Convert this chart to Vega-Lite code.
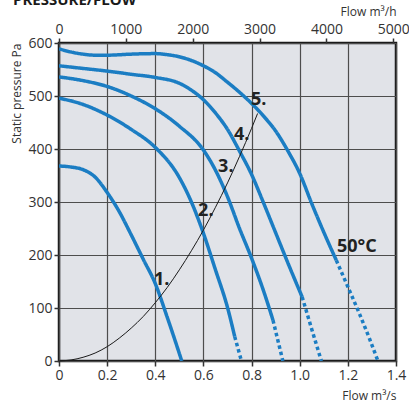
{
  "$schema": "https://vega.github.io/schema/vega-lite/v6.json",
  "width": 337,
  "height": 318,
  "autosize": {"type": "none"},
  "padding": {"left": 59, "top": 43, "right": 13, "bottom": 46},
  "title": {"text": "PRESSURE/FLOW", "anchor": "start", "frame": "bounds", "fontSize": 15, "fontWeight": "bold", "font": "Open Sans", "color": "#1a1a1a", "offset": -3, "dx": 2},
  "config": {
    "view": {"fill": "#e1e3e8", "stroke": "#1a1a1a", "strokeWidth": 2.5},
    "axis": {
      "domain": false,
      "labelFont": "Open Sans",
      "labelFontSize": 14,
      "labelColor": "#333333",
      "titleFont": "Open Sans",
      "titleFontSize": 12,
      "titleFontWeight": "normal",
      "titleColor": "#333333",
      "tickColor": "#333333",
      "tickWidth": 1.5,
      "tickSize": 5,
      "gridColor": "#4d4d4d",
      "gridWidth": 1.2,
      "gridOpacity": 1,
      "labelFlush": false,
      "labelOverlap": false
    }
  },
  "datasets": {
    "curves": [
      {"curve": "1", "seg": "solid", "q": 0, "p": 368},
      {"curve": "1", "seg": "solid", "q": 0.05, "p": 366},
      {"curve": "1", "seg": "solid", "q": 0.1, "p": 361},
      {"curve": "1", "seg": "solid", "q": 0.15, "p": 347},
      {"curve": "1", "seg": "solid", "q": 0.2, "p": 318},
      {"curve": "1", "seg": "solid", "q": 0.25, "p": 282},
      {"curve": "1", "seg": "solid", "q": 0.3, "p": 238},
      {"curve": "1", "seg": "solid", "q": 0.35, "p": 192},
      {"curve": "1", "seg": "solid", "q": 0.4, "p": 146},
      {"curve": "1", "seg": "solid", "q": 0.45, "p": 82},
      {"curve": "1", "seg": "solid", "q": 0.5, "p": 14},
      {"curve": "1", "seg": "solid", "q": 0.51, "p": 0},

      {"curve": "2", "seg": "solid", "q": 0, "p": 496},
      {"curve": "2", "seg": "solid", "q": 0.1, "p": 484},
      {"curve": "2", "seg": "solid", "q": 0.2, "p": 464},
      {"curve": "2", "seg": "solid", "q": 0.3, "p": 437},
      {"curve": "2", "seg": "solid", "q": 0.4, "p": 403},
      {"curve": "2", "seg": "solid", "q": 0.5, "p": 346},
      {"curve": "2", "seg": "solid", "q": 0.55, "p": 300},
      {"curve": "2", "seg": "solid", "q": 0.6, "p": 241},
      {"curve": "2", "seg": "solid", "q": 0.65, "p": 172},
      {"curve": "2", "seg": "solid", "q": 0.7, "p": 101},
      {"curve": "2", "seg": "solid", "q": 0.73, "p": 46},
      {"curve": "2", "seg": "dash", "q": 0.73, "p": 46},
      {"curve": "2", "seg": "dash", "q": 0.758, "p": 0},

      {"curve": "3", "seg": "solid", "q": 0, "p": 536},
      {"curve": "3", "seg": "solid", "q": 0.1, "p": 529},
      {"curve": "3", "seg": "solid", "q": 0.2, "p": 518},
      {"curve": "3", "seg": "solid", "q": 0.3, "p": 500},
      {"curve": "3", "seg": "solid", "q": 0.4, "p": 476},
      {"curve": "3", "seg": "solid", "q": 0.5, "p": 443},
      {"curve": "3", "seg": "solid", "q": 0.6, "p": 398},
      {"curve": "3", "seg": "solid", "q": 0.65, "p": 360},
      {"curve": "3", "seg": "solid", "q": 0.7, "p": 310},
      {"curve": "3", "seg": "solid", "q": 0.75, "p": 250},
      {"curve": "3", "seg": "solid", "q": 0.8, "p": 194},
      {"curve": "3", "seg": "solid", "q": 0.85, "p": 132},
      {"curve": "3", "seg": "solid", "q": 0.889, "p": 77},
      {"curve": "3", "seg": "dash", "q": 0.889, "p": 77},
      {"curve": "3", "seg": "dash", "q": 0.93, "p": 0},

      {"curve": "4", "seg": "solid", "q": 0, "p": 557},
      {"curve": "4", "seg": "solid", "q": 0.1, "p": 552},
      {"curve": "4", "seg": "solid", "q": 0.2, "p": 547},
      {"curve": "4", "seg": "solid", "q": 0.3, "p": 541},
      {"curve": "4", "seg": "solid", "q": 0.4, "p": 535},
      {"curve": "4", "seg": "solid", "q": 0.5, "p": 524},
      {"curve": "4", "seg": "solid", "q": 0.55, "p": 511},
      {"curve": "4", "seg": "solid", "q": 0.6, "p": 493},
      {"curve": "4", "seg": "solid", "q": 0.65, "p": 468},
      {"curve": "4", "seg": "solid", "q": 0.7, "p": 437},
      {"curve": "4", "seg": "solid", "q": 0.75, "p": 396},
      {"curve": "4", "seg": "solid", "q": 0.8, "p": 352},
      {"curve": "4", "seg": "solid", "q": 0.85, "p": 298},
      {"curve": "4", "seg": "solid", "q": 0.9, "p": 242},
      {"curve": "4", "seg": "solid", "q": 0.95, "p": 186},
      {"curve": "4", "seg": "solid", "q": 1.01, "p": 121},
      {"curve": "4", "seg": "dash", "q": 1.01, "p": 121},
      {"curve": "4", "seg": "dash", "q": 1.05, "p": 60},
      {"curve": "4", "seg": "dash", "q": 1.09, "p": 0},

      {"curve": "5", "seg": "solid", "q": 0, "p": 589},
      {"curve": "5", "seg": "solid", "q": 0.05, "p": 583},
      {"curve": "5", "seg": "solid", "q": 0.1, "p": 579},
      {"curve": "5", "seg": "solid", "q": 0.15, "p": 577},
      {"curve": "5", "seg": "solid", "q": 0.2, "p": 577},
      {"curve": "5", "seg": "solid", "q": 0.3, "p": 579},
      {"curve": "5", "seg": "solid", "q": 0.4, "p": 580},
      {"curve": "5", "seg": "solid", "q": 0.45, "p": 578},
      {"curve": "5", "seg": "solid", "q": 0.5, "p": 574},
      {"curve": "5", "seg": "solid", "q": 0.55, "p": 567},
      {"curve": "5", "seg": "solid", "q": 0.6, "p": 557},
      {"curve": "5", "seg": "solid", "q": 0.65, "p": 544},
      {"curve": "5", "seg": "solid", "q": 0.7, "p": 526},
      {"curve": "5", "seg": "solid", "q": 0.75, "p": 507},
      {"curve": "5", "seg": "solid", "q": 0.8, "p": 486},
      {"curve": "5", "seg": "solid", "q": 0.85, "p": 462},
      {"curve": "5", "seg": "solid", "q": 0.9, "p": 434},
      {"curve": "5", "seg": "solid", "q": 0.95, "p": 397},
      {"curve": "5", "seg": "solid", "q": 1.0, "p": 354},
      {"curve": "5", "seg": "solid", "q": 1.05, "p": 297},
      {"curve": "5", "seg": "solid", "q": 1.1, "p": 243},
      {"curve": "5", "seg": "solid", "q": 1.152, "p": 190},
      {"curve": "5", "seg": "dash", "q": 1.152, "p": 190},
      {"curve": "5", "seg": "dash", "q": 1.2, "p": 140},
      {"curve": "5", "seg": "dash", "q": 1.25, "p": 87},
      {"curve": "5", "seg": "dash", "q": 1.29, "p": 42},
      {"curve": "5", "seg": "dash", "q": 1.325, "p": 0}
    ],
    "system": [
      {"q": 0, "p": 0},
      {"q": 0.05, "p": 2},
      {"q": 0.1, "p": 7},
      {"q": 0.15, "p": 15},
      {"q": 0.2, "p": 27},
      {"q": 0.25, "p": 43},
      {"q": 0.3, "p": 62},
      {"q": 0.35, "p": 84},
      {"q": 0.4, "p": 110},
      {"q": 0.45, "p": 139},
      {"q": 0.5, "p": 172},
      {"q": 0.55, "p": 208},
      {"q": 0.6, "p": 247},
      {"q": 0.65, "p": 290},
      {"q": 0.7, "p": 336},
      {"q": 0.75, "p": 386},
      {"q": 0.8, "p": 439},
      {"q": 0.825, "p": 467}
    ],
    "labels": [
      {"label": "1.", "q": 0.427, "p": 153},
      {"label": "2.", "q": 0.61, "p": 283},
      {"label": "3.", "q": 0.693, "p": 366},
      {"label": "4.", "q": 0.759, "p": 426},
      {"label": "5.", "q": 0.83, "p": 492},
      {"label": "50°C", "q": 1.237, "p": 215}
    ],
    "topaxis": [
      {"h": 0},
      {"h": 5040}
    ]
  },
  "layer": [
    {
      "data": {"name": "topaxis"},
      "mark": {"type": "point", "opacity": 0},
      "encoding": {
        "x": {
          "field": "h", "type": "quantitative",
          "scale": {"domain": [0, 5040], "nice": false, "zero": false},
          "axis": {"orient": "top", "values": [0, 1000, 2000, 3000, 4000, 5000], "format": "d", "grid": false, "title": "Flow m³/h", "titleAnchor": "end", "labelPadding": 2, "titlePadding": 4}
        }
      }
    },
    {
      "layer": [
        {
          "data": {"name": "curves"},
          "mark": {"type": "line", "interpolate": "monotone", "strokeWidth": 3.5, "color": "#1b7dc3", "clip": true},
          "encoding": {
            "x": {
              "field": "q", "type": "quantitative",
              "scale": {"domain": [0, 1.4], "nice": false},
              "axis": {"values": [0, 0.2, 0.4, 0.6, 0.8, 1.0, 1.2, 1.4], "grid": true, "labelExpr": "datum.value == 0 ? '0' : format(datum.value, '.1f')", "title": "Flow m³/s", "titleAnchor": "end", "labelPadding": 2, "titlePadding": 8}
            },
            "y": {
              "field": "p", "type": "quantitative",
              "scale": {"domain": [0, 600], "nice": false},
              "axis": {"values": [0, 100, 200, 300, 400, 500, 600], "grid": true, "title": "Static pressure Pa", "titleAnchor": "end", "labelPadding": 2}
            },
            "detail": {"field": "curve"},
            "strokeDash": {
              "field": "seg", "type": "nominal",
              "scale": {"domain": ["solid", "dash"], "range": [[1, 0], [3.5, 3]]},
              "legend": null
            }
          }
        },
        {
          "data": {"name": "system"},
          "mark": {"type": "line", "interpolate": "monotone", "strokeWidth": 1, "color": "#1a1a1a"},
          "encoding": {
            "x": {"field": "q", "type": "quantitative"},
            "y": {"field": "p", "type": "quantitative"}
          }
        },
        {
          "data": {"name": "labels"},
          "mark": {"type": "text", "font": "Open Sans", "fontSize": 18, "fontWeight": "bold", "color": "#222222", "align": "center", "baseline": "middle"},
          "encoding": {
            "x": {"field": "q", "type": "quantitative"},
            "y": {"field": "p", "type": "quantitative"},
            "text": {"field": "label"}
          }
        }
      ]
    }
  ],
  "resolve": {"scale": {"x": "independent"}}
}
